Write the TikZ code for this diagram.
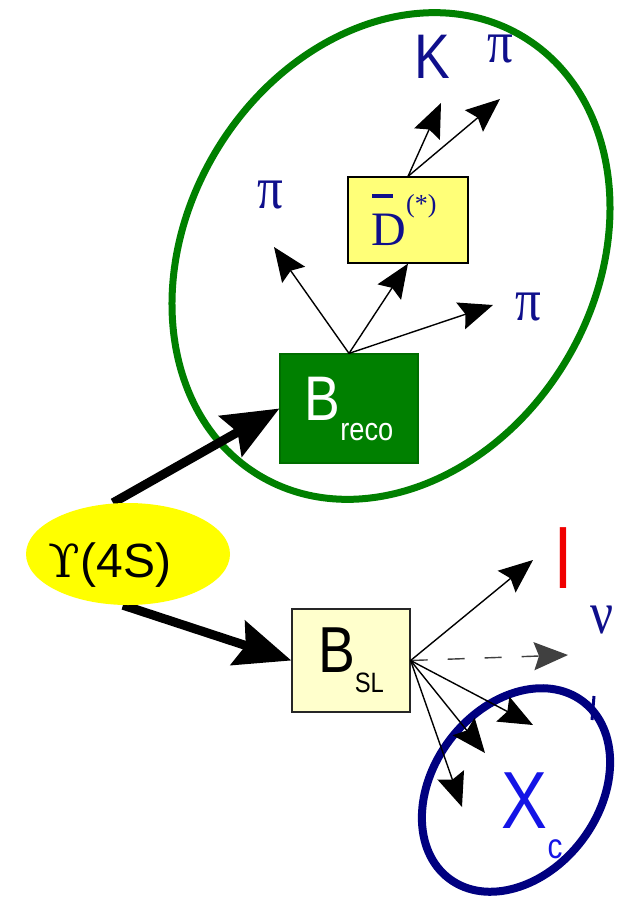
\documentclass[tikz,border=0pt]{standalone}
\usepackage{fontspec}
\setmainfont{Liberation Sans}
\newfontfamily\nsf[FakeStretch=0.85]{Liberation Sans}
\newfontfamily\tms{Liberation Serif}
\newfontfamily\dvs{DejaVu Serif}
\newfontfamily\ntms[FakeStretch=0.85]{Liberation Serif}
\usetikzlibrary{arrows.meta,shapes.geometric}
\definecolor{dkgreen}{RGB}{0,128,0}
\definecolor{navy}{RGB}{0,0,128}
\definecolor{txtblue}{RGB}{15,15,140}
\definecolor{xblue}{RGB}{20,20,230}
\definecolor{dyellow}{RGB}{255,255,120}
\definecolor{slyellow}{RGB}{255,255,204}
\definecolor{uyellow}{RGB}{255,255,0}
\definecolor{lred}{RGB}{240,0,0}
\newcommand{\fs}[1]{\fontsize{#1}{#1}\selectfont}
\newcommand{\dbarD}{\rlap{\kern0.02em\raisebox{1.0em}{\rule{0.42em}{0.065em}}}D}
\pgfdeclarelayer{back}
\pgfdeclarelayer{mid}
\pgfsetlayers{back,mid,main}
\begin{document}
\begin{tikzpicture}[x=1pt,y=-1pt,
  thinarrow/.style={line width=1.4pt,-{Stealth[length=34pt,width=28pt,inset=5pt]}},
  thickarrow/.style={line width=9pt,-{Stealth[length=56pt,width=46pt,inset=8pt]}},
  lbl/.style={inner sep=0pt,anchor=base,text=txtblue},
  grk/.style={lbl,font={\ntms\fs{60}}},
  box/.style={inner sep=0pt,line width=1.2pt}]
\useasboundingbox (0,0) rectangle (622,900);
\begin{pgfonlayer}{back}
\fill[white] (0,0) rectangle (622,900);
\node[ellipse,draw=dkgreen,line width=7pt,minimum width=408pt,minimum height=512pt,inner sep=0pt,rotate=-31] (grp) at (391,256) {};
\node[ellipse,draw=navy,line width=8pt,minimum width=166pt,minimum height=222pt,inner sep=0pt,rotate=-37] (xgrp) at (516,790) {};
\end{pgfonlayer}

% Upsilon
\node[ellipse,fill=uyellow,minimum width=204pt,minimum height=102pt,inner sep=0pt] (ups) at (128,554) {};
\node[inner sep=0pt,anchor=base] (upstext) at (110,577) {\fs{48}{\dvs\fs{46}ϒ}(4S)};

% boxes
\node[box,draw=dkgreen!85!black,fill=dkgreen,minimum width=138pt,minimum height=109pt,text=white] (breco) at (349,408.5) {\nsf\fs{63}B\raisebox{-20pt}{\fs{32}reco}};
\node[box,draw=black,fill=dyellow,minimum width=120pt,minimum height=86pt,text=txtblue] (dbar) at (408,220) {\kern-8pt\tms\fs{48}\dbarD\raisebox{33pt}{\fs{26}(*)}};
\node[box,draw=black!85,fill=slyellow,minimum width=118pt,minimum height=103pt] (bsl) at (351,660.5) {\nsf\fs{65}B\raisebox{-20pt}{\fs{28}SL}};

% labels
\node[grk] (pil) at (270,208) {π};
\node[grk] (pir) at (528,320) {π};
\node[grk] (pit) at (500,62) {π};
\node[lbl,font={\nsf\fs{63}}] (kk) at (432.5,78) {K};
\node[grk] (nu) at (602,633) {ν};
\node[lbl,text=lred,font={\nsf\fs{84}}] (ll) at (563,588) {l};
\node[lbl,text=xblue,font={\nsf\fs{81}}] (xc) at (532,828) {X\raisebox{-30pt}{\fs{35}c}};
\draw[navy,line width=3pt] (594,696) -- (592,720);

% tips
\coordinate (tpil) at (274,247);
\coordinate (tpir) at (493,305);
\coordinate (tk) at (441,103);
\coordinate (tpit) at (500,99);
\coordinate (tl) at (533,560);
\coordinate (tnu) at (568,655);
\coordinate (tx1) at (533,725);
\coordinate (tx2) at (485,753);
\coordinate (tx3) at (462,807);

\draw[thinarrow] (breco.north) -- (tpil);
\draw[thinarrow] (breco.north) -- (dbar.south);
\draw[thinarrow] (breco.north) -- (tpir);
\draw[thinarrow] (dbar.north) -- (tk);
\draw[thinarrow] (dbar.north) -- (tpit);
\draw[thinarrow] (bsl.east) -- (tl);
\draw[thinarrow,draw=black!75,dash pattern=on 17pt off 20pt] (bsl.east) -- (tnu);
\draw[thinarrow] (bsl.east) -- (tx1);
\draw[thinarrow] (bsl.east) -- (tx2);
\draw[thinarrow] (bsl.east) -- (tx3);

\begin{pgfonlayer}{mid}
\draw[thickarrow] ([xshift=-15pt]ups.north) -- (breco.west);
\draw[thickarrow] ([xshift=-5pt]ups.south) -- (bsl.west);
\end{pgfonlayer}
\end{tikzpicture}
\end{document}
